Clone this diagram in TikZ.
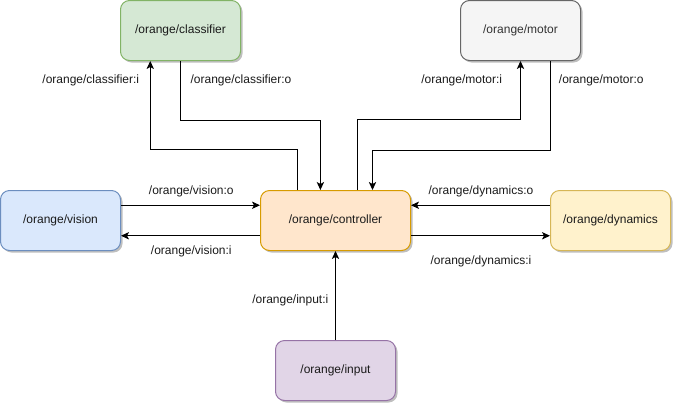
\documentclass[tikz,border=0pt]{standalone}
\usepackage{fontspec}
\setmainfont{Liberation Sans}
\usetikzlibrary{arrows.meta,calc,shadows}
\definecolor{visF}{HTML}{DAE8FC}\definecolor{visS}{HTML}{6C8EBF}
\definecolor{clsF}{HTML}{D5E8D4}\definecolor{clsS}{HTML}{82B366}
\definecolor{motF}{HTML}{F5F5F5}\definecolor{motS}{HTML}{666666}
\definecolor{ctlF}{HTML}{FFE6CC}\definecolor{ctlS}{HTML}{D79B00}
\definecolor{dynF}{HTML}{FFF2CC}\definecolor{dynS}{HTML}{D6B656}
\definecolor{inpF}{HTML}{E1D5E7}\definecolor{inpS}{HTML}{9673A6}
\definecolor{txt}{HTML}{1A1A1A}
\tikzset{
  box/.style={rectangle, rounded corners=6.75pt, minimum width=90pt, minimum height=45pt,
    inner sep=0pt, line width=0.75pt, text=txt, font=\fontsize{9}{11}\selectfont,
    drop shadow={shadow xshift=1.5pt, shadow yshift=-1.5pt, opacity=0.25, fill=black}},
  lbl/.style={inner sep=0pt, text=txt, font=\fontsize{9}{11}\selectfont},
  arr/.style={line width=0.75pt, -{Stealth[length=6pt,width=5.5pt,inset=1.5pt]}}
}
\begin{document}
\begin{tikzpicture}[x=0.75pt,y=-0.75pt]
\useasboundingbox (0,0) rectangle (673,404);
\node[box, fill=clsF, draw=clsS] (cls) at (180.5,30.5) {/orange/classifier};
\node[box, fill=motF, draw=motS, text=black!80] (mot) at (520.5,30.5) {/orange/motor};
\node[box, fill=visF, draw=visS] (vis) at (60.5,220.5) {/orange/vision};
\node[box, fill=ctlF, draw=ctlS, minimum width=112.5pt] (ctl) at (335.5,220.5) {/orange/controller};
\node[box, fill=dynF, draw=dynS] (dyn) at (610.5,220.5) {/orange/dynamics};
\node[box, fill=inpF, draw=inpS] (inp) at (335.5,370.5) {/orange/input};

% classifier
\draw[arr] ($(ctl.north west)!0.25!(ctl.north east)$) -- ++(0,-40.5) -| ($(cls.south west)!0.25!(cls.south east)$);
\draw[arr] (cls.south) -- ++(0,59.5) -| ($(ctl.north west)!0.4!(ctl.north east)$);
% motor
\draw[arr] ($(ctl.north west)!0.643!(ctl.north east)$) -- ++(0,-70.5) -| (mot.south);
\draw[arr] ($(mot.south west)!0.75!(mot.south east)$) -- ++(0,89.5) -| ($(ctl.north west)!0.745!(ctl.north east)$);
% vision
\draw[arr] ($(vis.north east)!0.25!(vis.south east)$) -- ($(ctl.north west)!0.25!(ctl.south west)$);
\draw[arr] ($(ctl.north west)!0.75!(ctl.south west)$) -- ($(vis.north east)!0.75!(vis.south east)$);
% dynamics
\draw[arr] ($(dyn.north west)!0.25!(dyn.south west)$) -- ($(ctl.north east)!0.25!(ctl.south east)$);
\draw[arr] ($(ctl.north east)!0.75!(ctl.south east)$) -- ($(dyn.north west)!0.75!(dyn.south west)$);
% input
\draw[arr] (inp.north) -- (ctl.south);

\node[lbl] (lci) at (90.8,80.7) {/orange/classifier:i};
\node[lbl] (lco) at (241,80.7) {/orange/classifier:o};
\node[lbl] (lmi) at (461.7,80.7) {/orange/motor:i};
\node[lbl] (lmo) at (601.3,80.7) {/orange/motor:o};
\node[lbl] (lvo) at (191.3,191) {/orange/vision:o};
\node[lbl] (lvi) at (191.3,251) {/orange/vision:i};
\node[lbl] (ldo) at (481,191) {/orange/dynamics:o};
\node[lbl] (ldi) at (481,261) {/orange/dynamics:i};
\node[lbl] (lii) at (290.3,300.7) {/orange/input:i};
\end{tikzpicture}
\end{document}
